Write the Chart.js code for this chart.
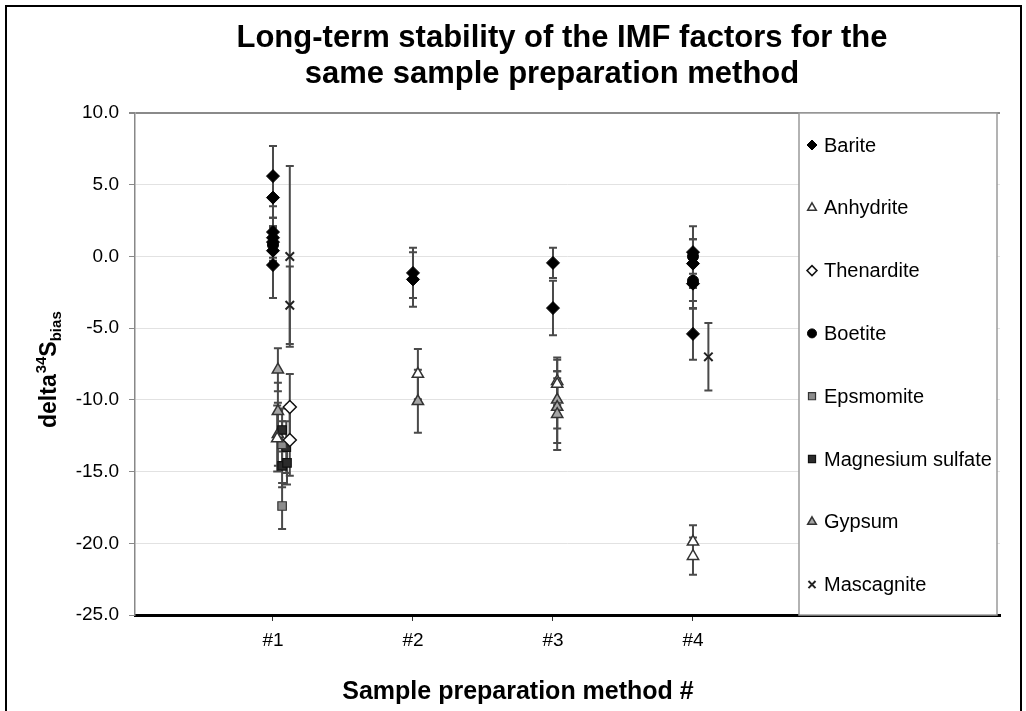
<!DOCTYPE html>
<html>
<head>
<meta charset="utf-8">
<script src="https://cdn.jsdelivr.net/npm/chart.js@4.4.0/dist/chart.umd.min.js"></script>
<style>
    html, body { margin: 0; padding: 0; background: #fff; overflow: hidden; }
    #wrap { position: relative; width: 1026px; height: 711px; }
    #frame { position: absolute; left: 5px; top: 5px; width: 1013px; height: 720px; border: 2px solid #000; pointer-events: none; }
</style>
</head>
<body>
<div id="wrap">
    <canvas id="myChart" width="1026" height="711" style="width:1026px;height:711px"></canvas>
    <div id="frame"></div>
</div>
<script>
const FONT = '"Liberation Sans", Arial, sans-serif';

const titleLines = ['Long-term stability of the IMF factors for the', 'same sample preparation method'];
const xAxisTitle = 'Sample preparation method #';
const methodTicks = [1, 2, 3, 4];

// x = method number (with the small offsets used in the original), y = delta34S bias, err = +/- error
const bariteX = [1, 1, 1, 1, 1, 1, 1, 2, 2, 3, 3, 4, 4, 4, 4];
const bariteY = [5.6, 4.1, 1.7, 1.3, 1.0, 0.4, -0.6, -1.15, -1.6, -0.45, -3.6, 0.3, -0.5, -1.9, -5.4];
const bariteErr = [2.1, 1.4, 1.0, 0.8, 1.1, 0.7, 2.3, 1.75, 1.9, 1.05, 1.9, 1.8, 1.7, 1.75, 1.8];

const anhydriteX = [1.03, 2.035, 3.03, 3.03, 4.0, 4.0];
const anhydriteY = [-12.7, -8.2, -8.7, -8.9, -19.9, -20.9];
const anhydriteErr = [2.3, 1.75, 1.65, 1.7, 1.15, 1.3];

const thenarditeX = [1.12, 1.12];
const thenarditeY = [-10.5, -12.8];
const thenarditeErr = [2.3, 2.5];

const boetiteX = [1.0, 4.0, 4.0];
const boetiteY = [0.8, 0.0, -1.7];
const boetiteErr = [1.2, 1.2, 1.4];

const epsomiteX = [1.065, 1.065];
const epsomiteY = [-13.1, -17.4];
const epsomiteErr = [1.6, 1.6];

const mgSulfateX = [1.065, 1.095, 1.065, 1.1];
const mgSulfateY = [-12.1, -13.3, -14.6, -14.4];
const mgSulfateErr = [1.5, 1.8, 1.5, 1.5];

const gypsumX = [1.035, 1.035, 1.035, 2.035, 3.03, 3.03, 3.03];
const gypsumY = [-7.9, -10.8, -12.4, -10.1, -10.0, -10.5, -11.0];
const gypsumErr = [1.5, 2.0, 2.2, 2.2, 2.0, 2.5, 2.5];

const mascagniteX = [1.12, 1.12, 4.11];
const mascagniteY = [0.0, -3.4, -7.0];
const mascagniteErr = [6.3, 2.7, 2.35];

function makePoints(xs, ys) {
    return xs.map((x, i) => ({ x: x, y: ys[i] }));
}

function makeSeries(label, xs, ys, errs, style) {
    return {
        label: label,
        data: makePoints(xs, ys),
        errors: errs,
        pointStyle: style.shape,
        pointRadius: style.radius,
        pointBackgroundColor: style.fill,
        pointBorderColor: style.border,
        pointBorderWidth: style.borderWidth,
        backgroundColor: style.fill,
        borderColor: style.border,
        showLine: false
    };
}

const datasets = [
    makeSeries('Barite', bariteX, bariteY, bariteErr, { shape: 'rectRot', radius: 6.5, fill: '#000', border: '#000', borderWidth: 1 }),
    makeSeries('Anhydrite', anhydriteX, anhydriteY, anhydriteErr, { shape: 'triangle', radius: 6.5, fill: '#fff', border: '#333', borderWidth: 1.5 }),
    makeSeries('Thenardite', thenarditeX, thenarditeY, thenarditeErr, { shape: 'rectRot', radius: 6.5, fill: '#fff', border: '#111', borderWidth: 1.5 }),
    makeSeries('Boetite', boetiteX, boetiteY, boetiteErr, { shape: 'circle', radius: 5.5, fill: '#000', border: '#000', borderWidth: 1 }),
    makeSeries('Epsmomite', epsomiteX, epsomiteY, epsomiteErr, { shape: 'rect', radius: 6, fill: '#8c8c8c', border: '#333', borderWidth: 1.2 }),
    makeSeries('Magnesium sulfate', mgSulfateX, mgSulfateY, mgSulfateErr, { shape: 'rect', radius: 6, fill: '#2b2b2b', border: '#111', borderWidth: 1.2 }),
    makeSeries('Gypsum', gypsumX, gypsumY, gypsumErr, { shape: 'triangle', radius: 6.5, fill: '#a5a5a5', border: '#333', borderWidth: 1.5 }),
    makeSeries('Mascagnite', mascagniteX, mascagniteY, mascagniteErr, { shape: 'crossRot', radius: 6, fill: '#222', border: '#222', borderWidth: 2 })
];

// error bars go under the markers
const errorBarPlugin = {
    id: 'errorBars',
    beforeDatasetsDraw(chart) {
        const ctx = chart.ctx;
        const xScale = chart.scales.x;
        const yScale = chart.scales.y;
        ctx.save();
        ctx.strokeStyle = '#4a4a4a';
        ctx.lineWidth = 2;
        chart.data.datasets.forEach(ds => {
            ds.data.forEach((pt, i) => {
                const err = ds.errors[i];
                const px = xScale.getPixelForValue(pt.x);
                const top = yScale.getPixelForValue(pt.y + err);
                const bottom = yScale.getPixelForValue(pt.y - err);
                ctx.beginPath();
                ctx.moveTo(px, top);
                ctx.lineTo(px, bottom);
                ctx.moveTo(px - 4, top);
                ctx.lineTo(px + 4, top);
                ctx.moveTo(px - 4, bottom);
                ctx.lineTo(px + 4, bottom);
                ctx.stroke();
            });
        });
        ctx.restore();
    }
};

// boxed legend that sits on the right part of the plot area
const boxLegendPlugin = {
    id: 'boxLegend',
    afterDatasetsDraw(chart) {
        const ctx = chart.ctx;
        const area = chart.chartArea;
        const left = 799, right = 997;
        ctx.save();
        ctx.fillStyle = '#fff';
        ctx.fillRect(left, area.top, right - left, area.bottom - area.top);
        ctx.strokeStyle = '#9a9a9a';
        ctx.lineWidth = 1.5;
        ctx.strokeRect(left, area.top, right - left, area.bottom - area.top);

        const rowStart = 145;
        const rowGap = 62.8;
        chart.data.datasets.forEach((ds, i) => {
            const y = rowStart + i * rowGap;
            ctx.fillStyle = ds.pointBackgroundColor;
            ctx.strokeStyle = ds.pointBorderColor;
            ctx.lineWidth = ds.pointBorderWidth;
            Chart.helpers.drawPoint(ctx, {
                pointStyle: ds.pointStyle,
                radius: ds.pointStyle === 'circle' ? 4.5 : 5,
                rotation: 0,
                borderWidth: ds.pointBorderWidth
            }, 812, y);
            ctx.fillStyle = '#000';
            ctx.font = '20px ' + FONT;
            ctx.textAlign = 'left';
            ctx.textBaseline = 'middle';
            ctx.fillText(ds.label, 824, y + 1);
        });
        ctx.restore();
    }
};

// chart title, x title and the y title with super/subscripts
const titlesPlugin = {
    id: 'titles',
    afterDraw(chart) {
        const ctx = chart.ctx;
        ctx.save();
        ctx.fillStyle = '#000';
        ctx.textBaseline = 'alphabetic';
        ctx.textAlign = 'center';
        ctx.font = 'bold 31px ' + FONT;
        ctx.fillText(titleLines[0], 562, 47);
        ctx.fillText(titleLines[1], 552, 83);

        ctx.font = 'bold 25px ' + FONT;
        ctx.fillText(xAxisTitle, 518, 699);

        // y title, rotated
        ctx.translate(56, 428);
        ctx.rotate(-Math.PI / 2);
        ctx.textAlign = 'left';
        let x = 0;
        ctx.font = 'bold 23px ' + FONT;
        ctx.fillText('delta', x, 0);
        x += ctx.measureText('delta').width + 1;
        ctx.font = 'bold 15px ' + FONT;
        ctx.fillText('34', x, -10);
        x += ctx.measureText('34').width;
        ctx.font = 'bold 23px ' + FONT;
        ctx.fillText('S', x, 0);
        x += ctx.measureText('S').width;
        ctx.font = 'bold 15px ' + FONT;
        ctx.fillText('bias', x, 5);
        ctx.restore();
    }
};

function createChart() {
    const ctx = document.getElementById('myChart').getContext('2d');
    return new Chart(ctx, {
        type: 'scatter',
        data: { datasets: datasets },
        plugins: [errorBarPlugin, boxLegendPlugin, titlesPlugin],
        options: {
            responsive: false,
            animation: false,
            layout: { padding: { left: 0, right: 26, top: 113, bottom: 0 } },
            plugins: {
                legend: { display: false },
                title: { display: false },
                tooltip: { enabled: false }
            },
            scales: {
                x: {
                    type: 'linear',
                    min: 0.0143,
                    max: 6.193,
                    afterBuildTicks: axis => { axis.ticks = methodTicks.map(v => ({ value: v })); },
                    afterFit: axis => { axis.height = 96; },
                    ticks: {
                        callback: v => '#' + v,
                        font: { family: FONT, size: 19 },
                        color: '#000',
                        padding: 8
                    },
                    grid: {
                        drawOnChartArea: false,
                        drawTicks: true,
                        tickLength: 6,
                        color: '#333'
                    },
                    border: { color: '#000', width: 3 }
                },
                y: {
                    type: 'linear',
                    min: -25,
                    max: 10,
                    afterFit: axis => { axis.width = 135; },
                    ticks: {
                        stepSize: 5,
                        callback: v => v.toFixed(1),
                        font: { family: FONT, size: 19 },
                        color: '#000',
                        padding: 10
                    },
                    grid: {
                        color: ctx => ctx.tick && ctx.tick.value === 10 ? '#8a8a8a' : '#e2e2e2',
                        lineWidth: ctx => ctx.tick && ctx.tick.value === 10 ? 2 : 1,
                        tickColor: '#888',
                        tickLength: 6
                    },
                    border: { color: '#888', width: 1.5 }
                }
            }
        }
    });
}

let chart = createChart();
</script>
</body>
</html>
